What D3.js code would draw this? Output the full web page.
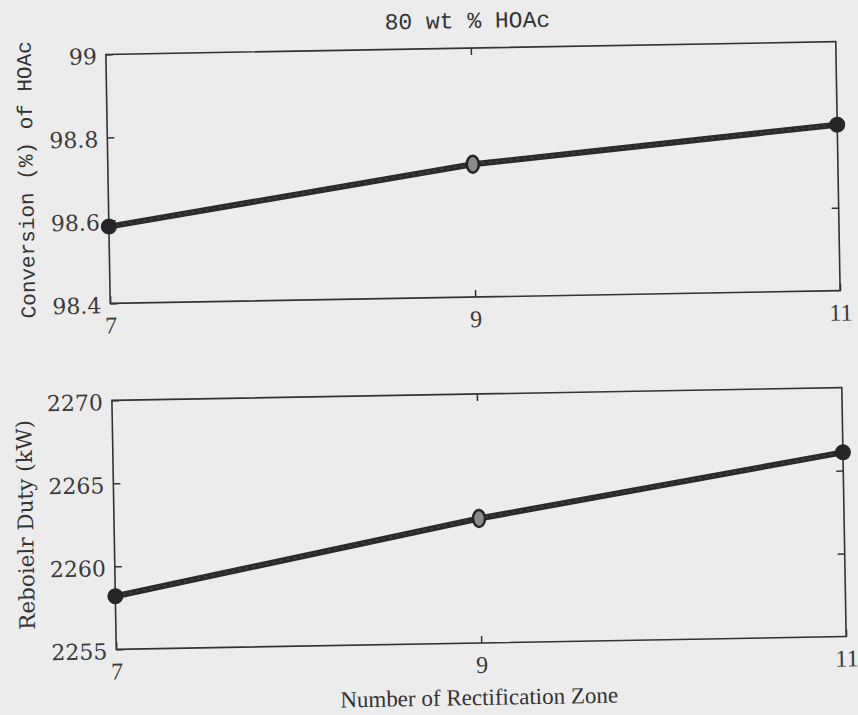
<!DOCTYPE html>
<html><head><meta charset="utf-8">
<script src="https://cdn.jsdelivr.net/npm/d3@7/dist/d3.min.js"></script>
<style>html,body{margin:0;padding:0;background:#ececec;} svg{display:block;}</style>
</head><body>
<div id="chart"></div>
<script>
// ---- data ----
const rectZones = [7, 9, 11];
const conversion = [98.585, 98.72, 98.80];
const reboilerDuty = [2258.2, 2262.5, 2266.1];
const xTicks = [7, 9, 11];
const convTicks = [98.4, 98.6, 98.8, 99];
const dutyTicks = [2255, 2260, 2265, 2270];
const titleText = "80 wt % HOAc";
const convLabel = "Conversion (%) of HOAc";
const dutyLabel = "Reboielr Duty (kW)";
const xLabel = "Number of Rectification Zone";

const W = 858, H = 715;
const ink = "#333";
const svg = d3.select("#chart").append("svg").attr("width", W).attr("height", H);
svg.append("rect").attr("width", W).attr("height", H).attr("fill", "#ececec");
const g = svg.append("g").attr("transform", "rotate(-1,476,345)");

const left = 111, right = 841;
const panels = [
  {top: 48, bottom: 297, vals: conversion, ticks: convTicks, domain: [98.4, 99], fmt: d => d3.format("")(d)},
  {top: 394, bottom: 643, vals: reboilerDuty, ticks: dutyTicks, domain: [2255, 2270], fmt: d => d}
];

const x = d3.scaleLinear().domain([7, 11]).range([left, right]);

panels.forEach((p, i) => {
  const y = d3.scaleLinear().domain(p.domain).range([p.bottom, p.top]);
  const pg = g.append("g");
  pg.append("rect").attr("x", left).attr("y", p.top).attr("width", right - left).attr("height", p.bottom - p.top)
    .attr("fill", "none").attr("stroke", ink).attr("stroke-width", 1.6);
  const ya = pg.append("g").attr("transform", `translate(${left},0)`)
    .call(d3.axisLeft(y).tickValues(p.ticks).tickSize(-7).tickPadding(9).tickFormat(p.fmt));
  ya.select(".domain").remove();
  ya.selectAll("line").attr("stroke", ink).attr("stroke-width", 1.5);
  ya.selectAll("text").attr("fill", "#3a3a3a").attr("font-family", "DejaVu Serif").attr("font-size", 22).attr("dy", "0.42em");
  const yr = pg.append("g").attr("transform", `translate(${right},0)`)
    .call(d3.axisRight(y).tickValues(p.ticks.slice(1, -1)).tickSize(-7).tickFormat(""));
  yr.select(".domain").remove();
  yr.selectAll("line").attr("stroke", ink).attr("stroke-width", 1.5);
  const xa = pg.append("g").attr("transform", `translate(0,${p.bottom})`)
    .call(d3.axisBottom(x).tickValues(xTicks).tickSize(-7).tickPadding(13).tickFormat(d3.format("d")));
  xa.select(".domain").remove();
  xa.selectAll("line").attr("stroke", ink).attr("stroke-width", 1.5);
  xa.selectAll("text").attr("fill", "#3a3a3a").attr("font-family", "Liberation Serif").attr("font-size", 24);
  const xt = pg.append("g").attr("transform", `translate(0,${p.top})`)
    .call(d3.axisTop(x).tickValues([9]).tickSize(-7).tickFormat(""));
  xt.select(".domain").remove();
  xt.selectAll("line").attr("stroke", ink).attr("stroke-width", 1.5);

  const data = rectZones.map((z, k) => ({z, v: p.vals[k]}));
  pg.append("path").datum(data)
    .attr("d", d3.line().x(d => x(d.z)).y(d => y(d.v)))
    .attr("fill", "none").attr("stroke", "#2a2a2a").attr("stroke-width", 6).attr("stroke-linecap", "round");
  pg.append("path").datum(data)
    .attr("d", d3.line().x(d => x(d.z)).y(d => y(d.v)))
    .attr("fill", "none").attr("stroke", "#555").attr("stroke-width", 1.5).attr("stroke-dasharray", "3,4").attr("opacity", 0.6);
  pg.selectAll("ellipse.pt").data(data).enter().append("ellipse")
    .attr("cx", d => x(d.z)).attr("cy", d => y(d.v))
    .attr("rx", (d, k) => k === 1 ? 6 : 7.5).attr("ry", (d, k) => k === 1 ? 8.5 : 7.5)
    .attr("fill", (d, k) => k === 1 ? "#8a8a8a" : "#262626")
    .attr("stroke", "#262626").attr("stroke-width", (d, k) => k === 1 ? 2.5 : 1);
});

g.append("text").attr("x", 473).attr("y", 28).attr("text-anchor", "middle")
  .attr("font-family", "Liberation Mono").attr("font-size", 23).attr("fill", ink).text(titleText);
g.append("text").attr("transform", "translate(36,172) rotate(-90)").attr("text-anchor", "middle")
  .attr("font-family", "Liberation Mono").attr("font-size", 21).attr("fill", ink).text(convLabel);
g.append("text").attr("transform", "translate(30,517) rotate(-90)").attr("text-anchor", "middle")
  .attr("font-family", "DejaVu Serif").attr("font-size", 21.5).attr("fill", ink).text(dutyLabel);
g.append("text").attr("x", 473).attr("y", 705).attr("text-anchor", "middle")
  .attr("font-family", "Liberation Serif").attr("font-size", 23).attr("fill", ink).text(xLabel);
</script>
</body></html>
